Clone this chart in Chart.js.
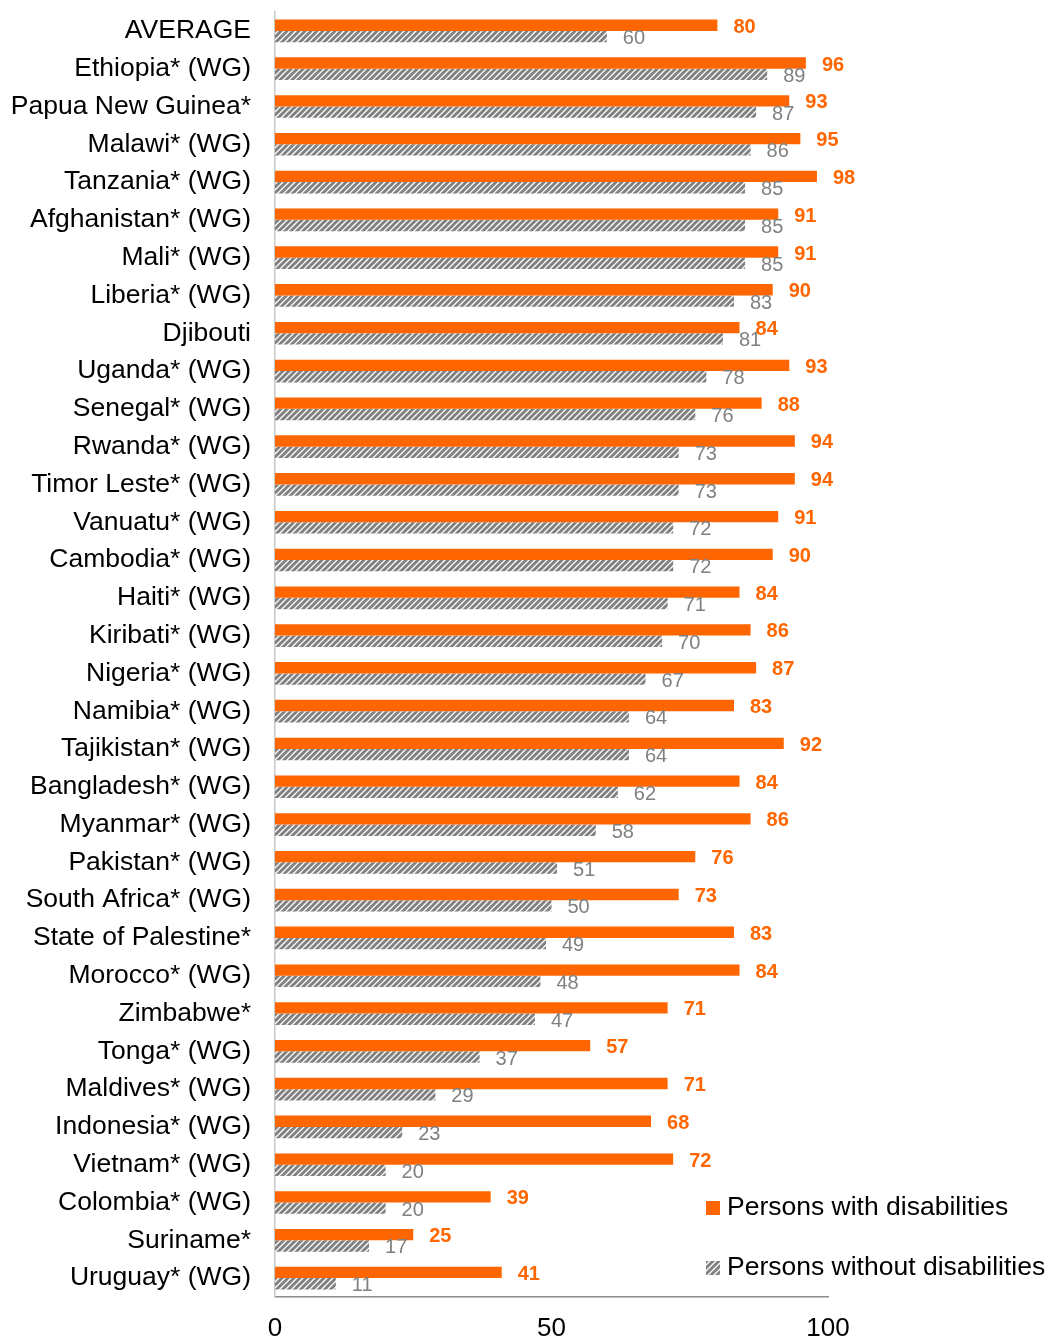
<!DOCTYPE html>
<html>
<head>
<meta charset="utf-8">
<script src="https://cdn.jsdelivr.net/npm/chart.js@4.4.1/dist/chart.umd.min.js"></script>
<style>
  body { margin: 0; background: #fff; }
  #wrap { width: 1049px; height: 1340px; position: relative; }
</style>
</head>
<body>
<div id="wrap"><canvas id="chart"></canvas></div>
<script>
// Categories and values
const countries = ['AVERAGE', 'Ethiopia* (WG)', 'Papua New Guinea*', 'Malawi* (WG)', 'Tanzania* (WG)',
  'Afghanistan* (WG)', 'Mali* (WG)', 'Liberia* (WG)', 'Djibouti', 'Uganda* (WG)', 'Senegal* (WG)',
  'Rwanda* (WG)', 'Timor Leste* (WG)', 'Vanuatu* (WG)', 'Cambodia* (WG)', 'Haiti* (WG)', 'Kiribati* (WG)',
  'Nigeria* (WG)', 'Namibia* (WG)', 'Tajikistan* (WG)', 'Bangladesh* (WG)', 'Myanmar* (WG)', 'Pakistan* (WG)',
  'South Africa* (WG)', 'State of Palestine*', 'Morocco* (WG)', 'Zimbabwe*', 'Tonga* (WG)', 'Maldives* (WG)',
  'Indonesia* (WG)', 'Vietnam* (WG)', 'Colombia* (WG)', 'Suriname*', 'Uruguay* (WG)'];
const withDisab = [80, 96, 93, 95, 98, 91, 91, 90, 84, 93, 88, 94, 94, 91, 90, 84, 86, 87, 83, 92, 84, 86,
  76, 73, 83, 84, 71, 57, 71, 68, 72, 39, 25, 41];
const withoutDisab = [60, 89, 87, 86, 85, 85, 85, 83, 81, 78, 76, 73, 73, 72, 72, 71, 70, 67, 64, 64, 62, 58,
  51, 50, 49, 48, 47, 37, 29, 23, 20, 20, 17, 11];
const xTicks = [0, 50, 100];

const ORANGE = '#ff6600';
const GREY = '#808080';
const FONT = '"Liberation Sans", Arial, sans-serif';

// hatched fill for the grey bars
function makeHatch() {
  const c = document.createElement('canvas');
  c.width = 6; c.height = 6;
  const g = c.getContext('2d');
  g.fillStyle = '#fff';
  g.fillRect(0, 0, 6, 6);
  g.strokeStyle = GREY;
  g.lineWidth = 3;
  g.beginPath();
  g.moveTo(-1, 7); g.lineTo(7, -1);
  g.moveTo(-4, 4); g.lineTo(4, -4);
  g.moveTo(2, 10); g.lineTo(10, 2);
  g.stroke();
  return g.createPattern(c, 'repeat');
}
const hatch = makeHatch();

// value labels at bar ends
const valueLabels = {
  id: 'valueLabels',
  afterDatasetsDraw(chart) {
    const ctx = chart.ctx;
    ctx.save();
    ctx.textBaseline = 'middle';
    ctx.textAlign = 'left';
    chart.data.datasets.forEach((ds, i) => {
      const meta = chart.getDatasetMeta(i);
      ctx.fillStyle = i === 0 ? ORANGE : GREY;
      ctx.font = (i === 0 ? 'bold ' : '') + '20px ' + FONT;
      meta.data.forEach((bar, j) => {
        ctx.fillText(ds.data[j], bar.x + 16, bar.y + 2);
      });
    });
    ctx.restore();
  }
};

// legend drawn inside the lower right corner
const cornerLegend = {
  id: 'cornerLegend',
  afterDraw(chart) {
    const ctx = chart.ctx;
    const items = [
      { text: 'Persons with disabilities', fill: ORANGE, y: 1208 },
      { text: 'Persons without disabilities', fill: hatch, y: 1268 }
    ];
    ctx.save();
    ctx.font = '26.5px ' + FONT;
    ctx.textBaseline = 'middle';
    items.forEach(it => {
      ctx.fillStyle = it.fill;
      ctx.fillRect(706, it.y - 7, 14, 14);
      ctx.fillStyle = '#000';
      ctx.fillText(it.text, 727, it.y);
    });
    ctx.restore();
  }
};

new Chart(document.getElementById('chart'), {
  type: 'bar',
  data: {
    labels: countries,
    datasets: [{
      label: 'Persons with disabilities',
      data: withDisab,
      backgroundColor: ORANGE,
      categoryPercentage: 0.6,
      barPercentage: 1
    }, {
      label: 'Persons without disabilities',
      data: withoutDisab,
      backgroundColor: hatch,
      categoryPercentage: 0.6,
      barPercentage: 1
    }]
  },
  options: {
    indexAxis: 'y',
    responsive: true,
    maintainAspectRatio: false,
    animation: false,
    layout: { padding: { left: 0, right: 221, top: 12, bottom: 0 } },
    plugins: {
      legend: { display: false },
      tooltip: { enabled: false }
    },
    scales: {
      x: {
        min: 0,
        max: 100,
        afterBuildTicks: (s) => { s.ticks = xTicks.map(v => ({ value: v })); },
        afterFit: (s) => { s.height = 43; },
        grid: { display: false, drawTicks: false },
        border: { color: '#8c8c8c', width: 1.5 },
        ticks: { color: '#000', font: { family: FONT, size: 26 }, padding: 16, maxRotation: 0 }
      },
      y: {
        afterFit: (s) => { s.width = 275; s.paddingTop = 0; s.paddingBottom = 0; },
        grid: { display: false, drawTicks: false },
        border: { color: '#c8c8c8', width: 1.5 },
        ticks: { color: '#000', font: { family: FONT, size: 26.5 }, padding: 24, autoSkip: false }
      }
    }
  },
  plugins: [valueLabels, cornerLegend]
});
</script>
</body>
</html>
